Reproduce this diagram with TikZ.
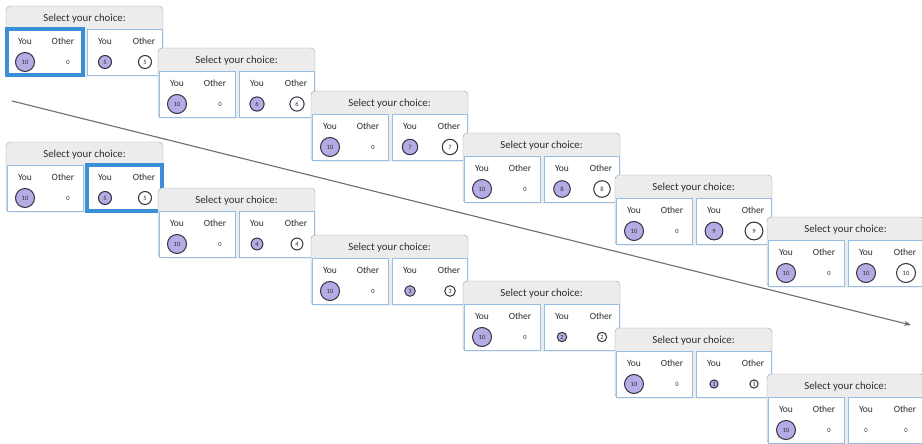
\documentclass[tikz,border=0pt]{standalone}
\usepackage{fontspec}
\setmainfont{Carlito}
\usetikzlibrary{arrows.meta}
\definecolor{cardgray}{RGB}{236,236,236}
\definecolor{cardline}{RGB}{160,160,160}
\definecolor{panelblue}{RGB}{150,190,228}
\definecolor{pickblue}{RGB}{58,143,216}
\definecolor{lavender}{RGB}{180,172,228}
\definecolor{ringgray}{RGB}{50,50,65}
\definecolor{txtgray}{RGB}{45,45,45}

% one choice screen: name, x, y, right value, left panel opts, right panel opts
\newcommand{\choicecard}[6]{%
\begin{scope}[shift={(#2,#3)}]
\node[card] (#1) at (78.5,35) {};
\node[head] (#1-head) at (78.5,12.5) {Select your choice:};
\node[panel,minimum width=76pt,#5] (#1-left) at (39,46) {};
\node[panel,minimum width=75pt,#6] (#1-right) at (118.5,46) {};
\node[lbl] (#1-ly) at (19,35) {You};
\node[lbl] (#1-lo) at (57,35) {Other};
\node[lbl] (#1-ry) at (99,35) {You};
\node[lbl] (#1-ro) at (138,35) {Other};
\node[you,minimum size=19pt] (#1-lyv) at (19,56) {10};
\node[num] (#1-lov) at (62,56) {0};
\ifnum#4=0
\node[num] (#1-ryv) at (99,56) {0};
\node[num] (#1-rov) at (139,56) {0};
\else
\node[you,minimum size={7pt+1.2pt*#4}] (#1-ryv) at (99,56) {#4};
\node[other,minimum size={7pt+1.2pt*#4}] (#1-rov) at (139,56) {#4};
\fi
\end{scope}}

\begin{document}
\begin{tikzpicture}[x=1pt,y=-1pt,
 card/.style={draw=cardline,fill=cardgray,rounded corners=4pt,minimum width=157pt,minimum height=70pt,inner sep=0pt},
 head/.style={font=\fontsize{10.8}{12}\selectfont,text=txtgray},
 panel/.style={draw=panelblue,fill=white,line width=0.9pt,minimum height=46pt,inner sep=0pt},
 pick/.style={draw=pickblue,line width=3.5pt},
 lbl/.style={font=\fontsize{9.5}{10}\selectfont,text=txtgray},
 num/.style={font=\fontsize{6.5}{7}\selectfont,text=txtgray},
 you/.style={circle,draw=ringgray,fill=lavender,line width=1pt,inner sep=0pt,font=\fontsize{6.5}{7}\selectfont,text=txtgray},
 other/.style={circle,draw=ringgray,fill=white,line width=1pt,inner sep=0pt,font=\fontsize{6.5}{7}\selectfont,text=txtgray},
 trend/.style={draw=gray!85!black,line width=1.1pt,-{Stealth[length=7pt,width=5pt]}}]
\useasboundingbox (0,0) rectangle (922,444);
\coordinate (start) at (12,101);
\coordinate (end) at (911,325);
\draw[trend] (start) -- (end);
% upper sequence
\choicecard{t1}{6}{6}{5}{pick}{}
\choicecard{t2}{158}{48}{6}{}{}
\choicecard{t3}{311}{91}{7}{}{}
\choicecard{t4}{463}{133}{8}{}{}
\choicecard{t5}{615}{175}{9}{}{}
\choicecard{t6}{767}{217}{10}{}{}
% lower sequence
\choicecard{b1}{6}{142}{5}{}{pick}
\choicecard{b2}{158}{188}{4}{}{}
\choicecard{b3}{311}{235}{3}{}{}
\choicecard{b4}{463}{281}{2}{}{}
\choicecard{b5}{615}{328}{1}{}{}
\choicecard{b6}{767}{374}{0}{}{}
\end{tikzpicture}
\end{document}
